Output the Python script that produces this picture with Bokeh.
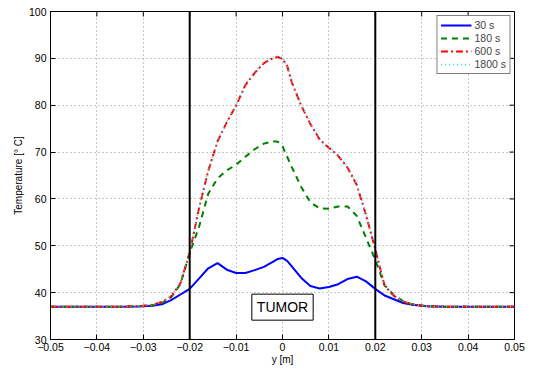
import math
from bokeh.plotting import figure
from bokeh.models import (Range1d, FixedTicker, Span, Label, Legend, LegendItem,
                          CustomJSTickFormatter)
from bokeh.embed import file_html
from bokeh.resources import INLINE

# ---- data ----
y_pos = [-0.05, -0.035, -0.031, -0.028, -0.026, -0.024, -0.022, -0.020, -0.018, -0.016,
         -0.014, -0.012, -0.010, -0.008, -0.006, -0.004, -0.002, -0.001, 0.0, 0.001,
         0.002, 0.004, 0.006, 0.008, 0.010, 0.012, 0.014, 0.016, 0.018, 0.020,
         0.022, 0.024, 0.026, 0.028, 0.031, 0.035, 0.05]

t30 = [37.0, 37.0, 37.05, 37.2, 37.5, 38.4, 39.6, 40.8, 43.0, 45.2,
       46.3, 44.9, 44.2, 44.2, 44.8, 45.5, 46.6, 47.2, 47.4, 46.8,
       45.6, 43.2, 41.4, 40.9, 41.2, 41.8, 42.9, 43.4, 42.4, 40.8,
       39.4, 38.6, 37.8, 37.4, 37.1, 37.0, 37.0]

t180 = [37.0, 37.0, 37.1, 37.3, 37.8, 39.0, 41.8, 48.5, 54.0, 61.1,
        64.4, 66.1, 67.3, 69.0, 70.6, 71.8, 72.3, 72.2, 71.2, 69.0,
        66.8, 62.6, 59.3, 58.0, 57.9, 58.4, 58.4, 56.4, 51.7, 47.0,
        41.6, 39.5, 38.2, 37.5, 37.1, 37.0, 37.0]

t600 = [37.0, 37.0, 37.1, 37.4, 38.0, 39.2, 42.0, 48.5, 58.0, 66.0,
        72.3, 76.4, 79.9, 84.3, 86.9, 89.0, 90.1, 90.3, 89.9, 88.4,
        84.9, 80.0, 76.0, 72.7, 70.9, 69.2, 66.7, 63.0, 56.6, 49.2,
        41.5, 39.3, 38.1, 37.5, 37.1, 37.0, 37.0]

t1800 = [37.0, 37.0, 37.1, 37.4, 38.0, 39.3, 42.1, 48.7, 58.2, 66.2,
         72.5, 76.6, 80.1, 84.5, 87.1, 89.2, 90.3, 90.5, 90.1, 88.6,
         85.1, 80.2, 76.2, 72.9, 71.1, 69.4, 66.9, 63.2, 56.8, 49.5,
         41.7, 39.4, 38.2, 37.5, 37.1, 37.0, 37.0]

labels = ["30 s", "180 s", "600 s", "1800 s"]
tumor_edges = [-0.02, 0.02]
x_ticks = [-0.05, -0.04, -0.03, -0.02, -0.01, 0.0, 0.01, 0.02, 0.03, 0.04, 0.05]
y_ticks = [30, 40, 50, 60, 70, 80, 90, 100]
x_min, x_max = -0.05, 0.05
y_min, y_max = 30, 100

FONT = "Liberation Sans"

p = figure(width=539, height=368, output_backend="svg", toolbar_location=None,
           x_range=Range1d(x_min, x_max), y_range=Range1d(y_min, y_max),
           min_border_left=50, min_border_right=25, min_border_top=11, min_border_bottom=29,
           x_axis_label="y [m]", y_axis_label="Temperature [\u00b0 C]")
p.background_fill_color = "white"
p.border_fill_color = "white"
p.outline_line_color = "black"
p.outline_line_width = 1

for ax in [p.xaxis[0], p.yaxis[0]]:
    ax.major_tick_in = 5
    ax.major_tick_out = 0
    ax.minor_tick_line_color = None
    ax.axis_line_color = "black"
    ax.major_tick_line_color = "black"
    ax.major_label_text_font = FONT
    ax.major_label_text_font_size = "10.5px"
    ax.major_label_text_color = "black"
    ax.axis_label_text_font = FONT
    ax.axis_label_text_font_size = "10px"
    ax.axis_label_text_font_style = "normal"
    ax.axis_label_text_color = "black"

p.xaxis[0].ticker = FixedTicker(ticks=x_ticks)
p.xaxis[0].formatter = CustomJSTickFormatter(code="""
    if (Math.abs(tick) < 1e-9) { return "0"; }
    const s = Math.abs(tick).toFixed(2);
    return (tick < 0 ? "\u2212" : "") + s;
""")
p.xaxis[0].major_label_standoff = 3
p.xaxis[0].axis_label_standoff = 0
p.yaxis[0].ticker = FixedTicker(ticks=y_ticks)
p.yaxis[0].major_label_standoff = 4
p.yaxis[0].axis_label_standoff = 2

# box ticks on top and right (inward)
p.ray(x=x_ticks, y=[y_max] * len(x_ticks), length=5, length_units="screen",
      angle=-math.pi / 2, line_color="black", line_width=1)
p.ray(x=[x_max] * len(y_ticks), y=y_ticks, length=5, length_units="screen",
      angle=math.pi, line_color="black", line_width=1)

p.xgrid.ticker = FixedTicker(ticks=x_ticks)
p.ygrid.ticker = FixedTicker(ticks=y_ticks)
for g in [p.xgrid[0], p.ygrid[0]]:
    g.grid_line_color = "#909090"
    g.grid_line_dash = "1 3"
    g.grid_line_width = 1

r1 = p.line(y_pos, t30, line_color="#0000ff", line_width=2)
r2 = p.line(y_pos, t180, line_color="#008000", line_width=2, line_dash="6 5")
r3 = p.line(y_pos, t600, line_color="#ff0000", line_width=2, line_dash="7 3 2 3")
r4 = p.line(y_pos, t1800, line_color="#40e0e0", line_width=1.5, line_dash="1 3")

for xe in tumor_edges:
    p.add_layout(Span(location=xe, dimension="height", line_color="black", line_width=2))

tumor = Label(x=0.0, y=36.9, text="TUMOR", text_align="center", text_baseline="middle",
              text_font=FONT, text_font_size="14px", text_color="black",
              border_line_color="black", border_line_width=1,
              background_fill_color="white", padding=5)
p.add_layout(tumor)

legend = Legend(items=[LegendItem(label=l, renderers=[r]) for l, r in zip(labels, [r1, r2, r3, r4])],
                location="top_right")
legend.label_text_font = FONT
legend.label_text_font_size = "10.5px"
legend.label_height = 12
legend.glyph_height = 12
legend.glyph_width = 31
legend.label_standoff = 3
legend.spacing = 1
legend.padding = 3
legend.margin = 4
legend.border_line_color = "black"
legend.border_line_width = 1
legend.background_fill_alpha = 1
p.add_layout(legend)

open("out.html", "w").write(file_html(p, INLINE))
